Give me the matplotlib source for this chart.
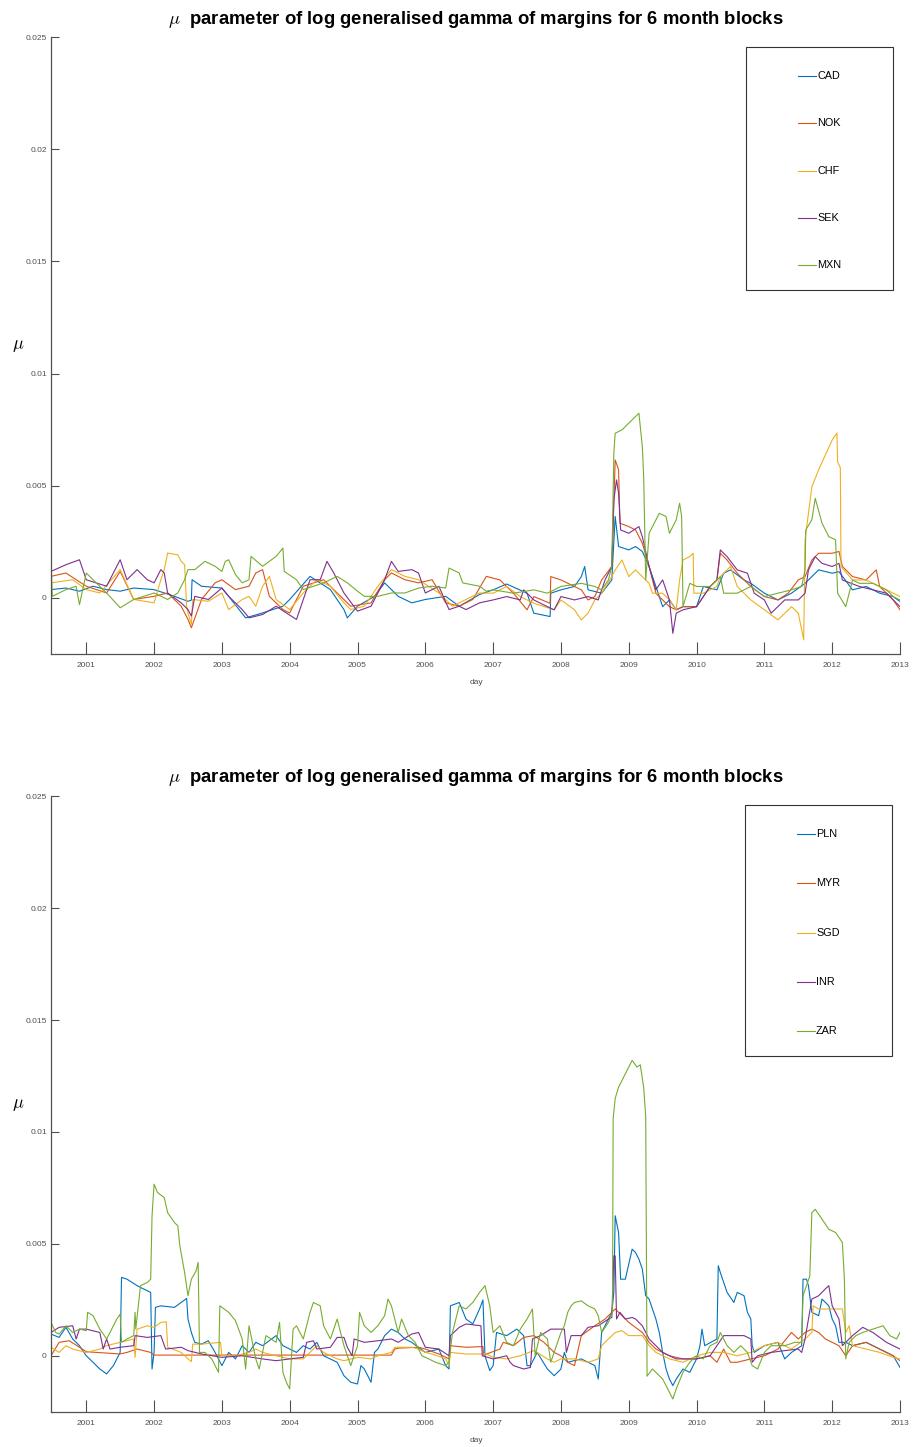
import numpy as np
import matplotlib
matplotlib.use("Agg")
import matplotlib.pyplot as plt
from matplotlib.patches import Rectangle

# values are (decimal year, mu in units of 1e-3)
CAD = [(2000.48, 0.37), (2000.7, 0.44), (2000.9, 0.30), (2001.1, 0.52), (2001.3, 0.37), (2001.5, 0.30),
       (2001.7, 0.44), (2002.0, 0.37), (2002.3, 0.07), (2002.5, -0.15), (2002.55, -0.1), (2002.56, 0.81),
       (2002.7, 0.52), (2003.0, 0.44), (2003.1, 0.07), (2003.35, -0.89), (2003.6, -0.67), (2003.9, -0.37),
       (2004.0, -0.07), (2004.3, 0.96), (2004.6, 0.37), (2004.8, -0.52), (2004.85, -0.89), (2005.0, -0.37),
       (2005.25, 0.07), (2005.4, 0.67), (2005.6, 0.07), (2005.8, -0.22), (2006.0, -0.07), (2006.3, 0.07),
       (2006.5, -0.37), (2006.8, 0.15), (2007.0, 0.36), (2007.2, 0.62), (2007.5, 0.21), (2007.6, -0.68),
       (2007.84, -0.83), (2007.85, 0.21), (2008.0, 0.36), (2008.2, 0.51), (2008.3, 0.95), (2008.35, 1.40),
       (2008.4, 0.36), (2008.6, 0.21), (2008.75, 0.80), (2008.8, 3.63), (2008.85, 2.29), (2009.0, 2.14),
       (2009.1, 2.29), (2009.2, 2.07), (2009.3, 1.40), (2009.4, 0.51), (2009.5, -0.39), (2009.6, -0.09),
       (2009.7, -0.53), (2009.8, -0.39), (2010.0, -0.39), (2010.1, 0.51), (2010.3, 0.36), (2010.4, 1.10),
       (2010.5, 1.25), (2010.7, 0.80), (2010.8, 0.65), (2011.0, 0.21), (2011.2, -0.09), (2011.4, 0.21),
       (2011.6, 0.65), (2011.7, 0.95), (2011.8, 1.25), (2012.0, 1.10), (2012.1, 1.17), (2012.3, 0.36),
       (2012.5, 0.51), (2012.7, 0.21), (2012.9, 0.06), (2013.0, -0.16)]

NOK = [(2000.48, 0.96), (2000.7, 1.11), (2001.0, 0.52), (2001.3, 0.22), (2001.5, 1.18), (2001.7, -0.07),
       (2002.0, 0.07), (2002.2, 0.22), (2002.4, -0.37), (2002.5, -0.96), (2002.55, -1.33), (2002.7, -0.07),
       (2002.9, 0.67), (2003.0, 0.81), (2003.2, 0.37), (2003.4, 0.52), (2003.5, 1.11), (2003.6, 1.26),
       (2003.7, 0.07), (2003.9, -0.52), (2004.0, -0.67), (2004.2, 0.52), (2004.5, 0.81), (2004.7, 0.22),
       (2004.9, -0.37), (2005.2, -0.22), (2005.4, 0.81), (2005.5, 1.11), (2005.7, 0.81), (2005.9, 0.67),
       (2006.1, 0.81), (2006.3, -0.22), (2006.5, -0.37), (2006.7, -0.07), (2006.9, 0.96), (2007.1, 0.80),
       (2007.3, 0.21), (2007.5, -0.53), (2007.6, 0.06), (2007.84, -0.24), (2007.85, 0.95), (2008.0, 0.80),
       (2008.2, 0.51), (2008.3, 0.36), (2008.4, -0.09), (2008.5, 0.06), (2008.6, 0.80), (2008.75, 1.40),
       (2008.8, 6.15), (2008.85, 5.71), (2008.87, 3.33), (2009.0, 3.18), (2009.1, 3.03), (2009.2, 2.44),
       (2009.3, 1.40), (2009.4, 0.21), (2009.5, -0.09), (2009.6, -0.39), (2009.7, -0.53), (2009.8, -0.39),
       (2010.0, -0.39), (2010.2, 0.51), (2010.3, 0.80), (2010.35, 1.99), (2010.45, 1.69), (2010.6, 1.10),
       (2010.8, 0.51), (2011.0, 0.06), (2011.2, -0.09), (2011.35, 0.21), (2011.5, 0.80), (2011.6, 0.95),
       (2011.7, 1.69), (2011.8, 1.99), (2012.0, 1.99), (2012.1, 2.07), (2012.15, 1.40), (2012.3, 0.95),
       (2012.5, 0.80), (2012.65, 1.25), (2012.7, 0.51), (2012.9, -0.09), (2013.0, -0.53)]

CHF = [(2000.48, 0.67), (2000.8, 0.81), (2001.0, 0.37), (2001.2, 0.22), (2001.5, 1.26), (2001.7, -0.07),
       (2002.0, -0.22), (2002.1, 0.81), (2002.15, 1.26), (2002.2, 2.0), (2002.35, 1.92), (2002.4, 1.63),
       (2002.45, 1.48), (2002.48, -0.37), (2002.5, -0.67), (2002.55, -1.18), (2002.57, -0.07), (2002.8, -0.15),
       (2003.0, 0.22), (2003.1, -0.52), (2003.3, -0.07), (2003.4, 0.07), (2003.5, -0.37), (2003.6, 0.52),
       (2003.7, 0.96), (2003.8, -0.07), (2004.0, -0.52), (2004.2, 0.22), (2004.4, 0.81), (2004.6, 0.52),
       (2004.8, -0.22), (2004.9, -0.52), (2005.1, -0.37), (2005.3, 0.52), (2005.5, 1.26), (2005.7, 0.96),
       (2005.9, 0.81), (2006.2, 0.22), (2006.4, -0.37), (2006.6, -0.07), (2006.8, 0.22), (2007.0, 0.21),
       (2007.2, 0.51), (2007.4, 0.06), (2007.6, -0.24), (2007.9, -0.53), (2008.0, -0.09), (2008.2, -0.53),
       (2008.3, -0.98), (2008.4, -0.68), (2008.5, -0.09), (2008.6, 0.21), (2008.75, 0.95), (2008.8, 1.25),
       (2008.9, 1.69), (2009.0, 0.95), (2009.1, 1.25), (2009.2, 0.95), (2009.3, 0.65), (2009.35, 0.21),
       (2009.5, 0.21), (2009.6, -0.09), (2009.7, -0.53), (2009.75, 0.80), (2009.8, 1.69), (2009.9, 1.84),
       (2009.95, 1.99), (2009.96, 0.21), (2010.1, 0.21), (2010.3, 0.51), (2010.35, 0.95), (2010.5, 1.40),
       (2010.6, 0.51), (2010.8, -0.09), (2011.0, -0.53), (2011.2, -0.98), (2011.4, -0.39), (2011.5, -0.68),
       (2011.58, -1.87), (2011.6, 2.6), (2011.7, 4.95), (2011.8, 5.71), (2012.0, 7.04), (2012.07, 7.35),
       (2012.08, 6.06), (2012.12, 5.8), (2012.13, 1.40), (2012.3, 0.80), (2012.5, 0.80), (2012.7, 0.51),
       (2012.9, 0.21), (2013.0, 0.06)]

SEK = [(2000.48, 1.18), (2000.7, 1.48), (2000.9, 1.70), (2001.0, 0.81), (2001.3, 0.52), (2001.45, 1.41),
       (2001.5, 1.70), (2001.6, 0.81), (2001.75, 1.26), (2001.9, 0.81), (2002.0, 0.67), (2002.1, 1.26),
       (2002.15, 1.11), (2002.2, 0.22), (2002.4, -0.22), (2002.5, -0.52), (2002.55, -0.81), (2002.6, 0.07),
       (2002.8, -0.07), (2003.0, 0.44), (2003.1, 0.07), (2003.3, -0.52), (2003.4, -0.89), (2003.6, -0.74),
       (2003.8, -0.37), (2003.95, -0.67), (2004.1, -0.96), (2004.3, 0.81), (2004.45, 0.81), (2004.55, 1.63),
       (2004.65, 1.11), (2004.8, 0.22), (2005.0, -0.59), (2005.2, -0.37), (2005.4, 0.81), (2005.5, 1.63),
       (2005.6, 1.18), (2005.8, 1.26), (2005.9, 1.11), (2006.0, 0.22), (2006.2, 0.52), (2006.35, -0.52),
       (2006.5, -0.37), (2006.6, -0.52), (2006.8, -0.22), (2007.0, -0.09), (2007.2, 0.06), (2007.4, -0.09),
       (2007.45, 0.36), (2007.6, -0.09), (2007.8, -0.39), (2007.9, -0.53), (2008.0, 0.06), (2008.2, -0.09),
       (2008.4, 0.06), (2008.55, -0.09), (2008.65, 0.80), (2008.75, 1.40), (2008.78, 4.37), (2008.82, 5.26),
       (2008.85, 4.67), (2008.88, 3.03), (2009.0, 2.88), (2009.15, 3.18), (2009.2, 2.73), (2009.3, 1.40),
       (2009.4, 0.36), (2009.5, 0.80), (2009.6, -0.09), (2009.65, -1.58), (2009.7, -0.68), (2009.8, -0.53),
       (2010.0, -0.39), (2010.2, 0.51), (2010.3, 0.80), (2010.35, 2.14), (2010.45, 1.84), (2010.6, 1.25),
       (2010.75, 1.10), (2010.85, 0.21), (2011.0, -0.09), (2011.1, -0.68), (2011.3, -0.09), (2011.5, -0.09),
       (2011.6, 0.21), (2011.65, 1.25), (2011.75, 1.84), (2011.85, 1.54), (2012.0, 1.40), (2012.1, 1.54),
       (2012.15, 0.80), (2012.4, 0.51), (2012.6, 0.36), (2012.8, 0.21), (2013.0, -0.39)]

MXN = [(2000.48, 1.63), (2000.5, 0.07), (2000.7, 0.37), (2000.85, 0.52), (2000.9, -0.30), (2001.0, 1.11),
       (2001.1, 0.81), (2001.3, 0.22), (2001.5, -0.44), (2001.7, -0.07), (2002.0, 0.22), (2002.2, -0.07),
       (2002.35, 0.22), (2002.45, 0.81), (2002.5, 1.26), (2002.6, 1.26), (2002.75, 1.63), (2002.9, 1.41),
       (2003.0, 1.18), (2003.05, 1.63), (2003.1, 1.70), (2003.2, 1.04), (2003.3, 0.67), (2003.4, 0.81),
       (2003.43, 1.85), (2003.6, 1.41), (2003.8, 1.85), (2003.9, 2.22), (2003.92, 1.18), (2004.1, 0.81),
       (2004.2, 0.37), (2004.5, 0.67), (2004.7, 0.96), (2004.85, 0.67), (2005.0, 0.30), (2005.1, 0.07),
       (2005.3, 0.07), (2005.5, 0.22), (2005.7, 0.22), (2005.9, 0.44), (2006.1, 0.52), (2006.3, 0.44),
       (2006.35, 1.33), (2006.5, 1.11), (2006.55, 0.67), (2006.8, 0.52), (2006.9, 0.30), (2007.0, 0.36),
       (2007.3, 0.21), (2007.6, 0.36), (2007.8, 0.21), (2008.0, 0.51), (2008.3, 0.65), (2008.5, 0.51),
       (2008.6, 0.36), (2008.7, 0.80), (2008.75, 1.40), (2008.78, 6.45), (2008.8, 7.34), (2008.9, 7.49),
       (2009.0, 7.79), (2009.15, 8.23), (2009.2, 6.75), (2009.22, 5.41), (2009.25, 0.80), (2009.3, 2.88),
       (2009.35, 3.18), (2009.45, 3.77), (2009.55, 3.63), (2009.6, 2.88), (2009.7, 3.48), (2009.75, 4.22),
       (2009.78, 3.63), (2009.8, -0.39), (2009.9, 0.65), (2010.0, 0.51), (2010.2, 0.51), (2010.35, 0.95),
       (2010.4, 0.21), (2010.6, 0.21), (2010.8, 0.51), (2011.0, 0.06), (2011.2, 0.21), (2011.4, 0.36),
       (2011.55, 0.51), (2011.6, 1.25), (2011.61, 3.03), (2011.7, 3.48), (2011.75, 4.44), (2011.85, 3.33),
       (2011.95, 2.73), (2012.05, 2.59), (2012.08, 0.21), (2012.2, -0.39), (2012.3, 0.80), (2012.4, 0.65),
       (2012.6, 0.65), (2012.8, 0.36), (2012.9, 0.06), (2013.0, -0.09)]

PLN = [(2000.48, 0.98), (2000.6, 0.83), (2000.7, 1.28), (2000.8, 0.76), (2000.9, 0.46), (2001.0, 0.01),
       (2001.1, -0.28), (2001.2, -0.58), (2001.3, -0.80), (2001.4, -0.43), (2001.5, 0.16), (2001.52, 3.51),
       (2001.6, 3.43), (2001.75, 3.14), (2001.8, 3.06), (2001.95, 2.84), (2001.97, -0.58), (2002.0, 0.16),
       (2002.02, 2.17), (2002.1, 2.24), (2002.3, 2.17), (2002.4, 2.39), (2002.48, 2.57), (2002.5, 1.65),
       (2002.55, 1.05), (2002.6, 0.61), (2002.7, 0.53), (2002.8, 0.68), (2002.9, 0.16), (2003.0, -0.43),
       (2003.1, 0.16), (2003.2, -0.13), (2003.3, 0.46), (2003.4, 0.16), (2003.5, 0.61), (2003.6, 0.46),
       (2003.8, 0.91), (2003.9, 0.46), (2004.0, 0.31), (2004.1, 0.16), (2004.2, 0.46), (2004.3, 0.31),
       (2004.4, 0.61), (2004.5, 0.01), (2004.7, -0.28), (2004.8, -0.88), (2004.9, -1.17), (2005.0, -1.25),
       (2005.05, -0.43), (2005.1, -0.58), (2005.2, -1.17), (2005.25, 0.16), (2005.3, 0.31), (2005.4, 0.91),
       (2005.5, 1.20), (2005.6, 1.05), (2005.7, 0.76), (2005.8, 0.61), (2006.0, 0.16), (2006.2, 0.31),
       (2006.3, -0.43), (2006.35, -0.58), (2006.37, 2.24), (2006.5, 2.39), (2006.6, 1.65), (2006.7, 1.43),
       (2006.8, 2.10), (2006.85, 2.5), (2006.88, 0.0), (2006.95, -0.65), (2007.0, -0.43), (2007.05, 1.05),
       (2007.2, 0.91), (2007.35, 1.20), (2007.45, 0.91), (2007.5, -0.43), (2007.55, -0.43), (2007.65, 0.16),
       (2007.8, -0.58), (2007.9, -0.88), (2008.0, -0.58), (2008.05, 0.16), (2008.1, -0.28), (2008.3, -0.13),
       (2008.5, -0.43), (2008.55, -1.03), (2008.6, 1.05), (2008.7, 1.65), (2008.75, 1.95), (2008.78, 2.84),
       (2008.8, 6.26), (2008.85, 5.51), (2008.88, 3.43), (2008.95, 3.43), (2009.05, 4.77), (2009.1, 4.62),
       (2009.15, 4.32), (2009.2, 3.88), (2009.25, 2.69), (2009.3, 2.54), (2009.4, 1.65), (2009.45, 1.05),
       (2009.5, 0.16), (2009.55, -0.58), (2009.6, -1.03), (2009.65, -1.32), (2009.7, -1.03), (2009.8, -0.58),
       (2009.9, -0.73), (2010.0, -0.13), (2010.05, 0.46), (2010.08, 1.20), (2010.12, 0.46), (2010.3, 0.76),
       (2010.32, 4.03), (2010.35, 3.73), (2010.45, 2.84), (2010.55, 2.39), (2010.6, 2.84), (2010.7, 2.69),
       (2010.75, 1.95), (2010.8, 1.65), (2010.82, 0.46), (2010.85, 0.16), (2011.0, 0.46), (2011.2, 0.61),
       (2011.3, -0.13), (2011.4, 0.16), (2011.55, 0.46), (2011.57, 3.43), (2011.62, 3.43), (2011.65, 3.14),
       (2011.7, 1.95), (2011.8, 1.80), (2011.85, 2.54), (2011.95, 2.24), (2012.0, 1.65), (2012.05, 1.35),
       (2012.1, 0.61), (2012.2, 0.61), (2012.3, 0.46), (2012.5, 0.61), (2012.7, 0.31), (2012.9, 0.01),
       (2013.0, -0.51)]

MYR = [(2000.48, 0.01), (2000.6, 0.61), (2000.75, 0.68), (2000.9, 0.39), (2001.0, 0.19), (2001.5, 0.09),
       (2001.6, 0.16), (2001.75, 0.31), (2001.95, 0.16), (2002.0, 0.04), (2005.5, 0.04), (2005.55, 0.31),
       (2005.6, 0.35), (2005.9, 0.39), (2006.0, 0.31), (2006.2, 0.09), (2006.35, -0.13), (2006.37, 0.46),
       (2006.6, 0.39), (2006.85, 0.42), (2006.86, 0.04), (2007.1, 0.31), (2007.15, 0.61), (2007.3, 0.46),
       (2007.45, 0.83), (2007.6, 0.91), (2007.75, 0.61), (2007.9, 0.16), (2008.0, 0.01), (2008.1, -0.28),
       (2008.2, -0.43), (2008.3, 0.91), (2008.5, 1.35), (2008.65, 1.65), (2008.8, 2.10), (2008.85, 1.95),
       (2009.0, 1.50), (2009.2, 1.05), (2009.3, 0.61), (2009.4, 0.31), (2009.6, 0.01), (2009.8, -0.13),
       (2010.0, -0.13), (2010.2, 0.01), (2010.3, -0.28), (2010.4, 0.31), (2010.5, -0.28), (2010.6, -0.28),
       (2010.8, -0.13), (2011.0, 0.01), (2011.2, 0.31), (2011.4, 1.05), (2011.5, 0.76), (2011.6, 1.05),
       (2011.7, 1.20), (2011.8, 1.05), (2011.9, 0.76), (2012.0, 0.61), (2012.1, 0.46), (2012.2, 0.01),
       (2012.3, 0.46), (2012.5, 0.61), (2012.7, 0.31), (2012.9, 0.01), (2013.0, -0.21)]

SGD = [(2000.48, 0.39), (2000.6, 0.16), (2000.7, 0.46), (2000.8, 0.31), (2001.0, 0.16), (2001.2, 0.31),
       (2001.3, 0.46), (2001.5, 0.61), (2001.7, 0.76), (2001.72, -0.06), (2001.75, 1.20), (2001.9, 1.35),
       (2002.0, 1.28), (2002.1, 1.50), (2002.18, 1.53), (2002.2, 0.39), (2002.4, 0.16), (2002.5, -0.13),
       (2002.55, -0.25), (2002.57, 0.53), (2002.7, 0.53), (2002.98, 0.61), (2003.0, 0.01), (2003.2, 0.01),
       (2003.4, 0.16), (2003.5, 0.31), (2003.6, 0.16), (2003.8, 0.01), (2004.0, -0.13), (2004.2, -0.13),
       (2004.4, 0.46), (2004.5, 0.16), (2004.7, -0.13), (2004.8, -0.21), (2005.0, -0.06), (2005.2, -0.13),
       (2005.3, 0.01), (2005.5, 0.16), (2005.55, 0.39), (2005.8, 0.39), (2005.9, 0.31), (2006.0, 0.16),
       (2006.1, 0.09), (2006.3, -0.13), (2006.35, -0.43), (2006.37, 0.16), (2006.6, 0.09), (2006.9, 0.09),
       (2007.0, -0.06), (2007.2, -0.13), (2007.4, 0.01), (2007.6, 0.24), (2007.8, -0.13), (2007.9, -0.28),
       (2008.0, -0.13), (2008.2, -0.13), (2008.4, -0.28), (2008.55, -0.13), (2008.6, 0.46), (2008.7, 0.76),
       (2008.8, 1.05), (2008.9, 1.13), (2009.0, 0.91), (2009.2, 0.91), (2009.3, 0.46), (2009.4, 0.16),
       (2009.6, -0.13), (2009.8, -0.28), (2010.0, 0.01), (2010.2, 0.16), (2010.4, 0.16), (2010.6, 0.01),
       (2010.8, 0.16), (2011.0, 0.46), (2011.2, 0.61), (2011.4, 0.31), (2011.6, 0.76), (2011.7, 1.05),
       (2011.72, 2.24), (2011.8, 2.10), (2012.0, 2.10), (2012.15, 2.10), (2012.2, 1.05), (2012.25, 1.35),
       (2012.3, 0.46), (2012.5, 0.31), (2012.7, 0.16), (2012.9, -0.06), (2013.0, -0.13)]

INR = [(2000.48, 1.05), (2000.6, 1.28), (2000.8, 1.35), (2000.85, 0.76), (2000.9, 1.20), (2001.0, 1.20),
       (2001.2, 1.05), (2001.25, 0.31), (2001.3, 0.76), (2001.35, 0.31), (2001.5, 0.39), (2001.7, 0.46),
       (2001.72, 0.91), (2001.9, 0.83), (2002.1, 0.91), (2002.17, 0.31), (2002.4, 0.39), (2002.5, 0.24),
       (2002.7, 0.09), (2003.0, -0.06), (2003.3, 0.01), (2003.6, -0.13), (2003.8, -0.21), (2004.0, -0.13),
       (2004.2, -0.06), (2004.25, 0.61), (2004.35, 0.68), (2004.4, 0.31), (2004.6, 0.39), (2004.7, 0.83),
       (2004.8, 0.83), (2004.85, 0.39), (2004.92, 0.01), (2004.95, 0.76), (2005.1, 0.61), (2005.3, 0.68),
       (2005.5, 0.76), (2005.6, 0.61), (2005.8, 0.98), (2005.9, 1.05), (2006.0, 0.39), (2006.2, 0.31),
       (2006.35, 0.01), (2006.37, 0.91), (2006.5, 1.28), (2006.6, 1.43), (2006.82, 1.35), (2006.84, 0.01),
       (2007.0, -0.13), (2007.2, 0.01), (2007.25, -0.28), (2007.3, -0.43), (2007.45, -0.58), (2007.55, -0.51),
       (2007.58, 0.76), (2007.7, 0.91), (2007.85, 1.20), (2008.05, 1.20), (2008.08, 0.16), (2008.15, 0.91),
       (2008.3, 0.91), (2008.4, 1.28), (2008.55, 1.35), (2008.7, 1.65), (2008.75, 1.72), (2008.78, 4.47),
       (2008.8, 4.47), (2008.82, 1.65), (2008.87, 1.95), (2008.95, 1.65), (2009.05, 1.72), (2009.1, 1.65),
       (2009.2, 1.35), (2009.3, 0.76), (2009.4, 0.46), (2009.5, 0.16), (2009.6, 0.01), (2009.7, -0.13),
       (2010.0, -0.13), (2010.2, 0.01), (2010.3, 0.46), (2010.4, 0.91), (2010.6, 0.91), (2010.7, 0.91),
       (2010.8, 0.76), (2010.82, -0.28), (2010.9, 0.01), (2011.1, 0.16), (2011.3, 0.24), (2011.5, 0.31),
       (2011.55, 0.16), (2011.6, 0.76), (2011.7, 2.54), (2011.8, 2.69), (2011.9, 3.0), (2011.95, 3.14),
       (2012.0, 2.24), (2012.1, 1.65), (2012.15, 0.46), (2012.3, 0.91), (2012.45, 1.28), (2012.6, 1.05),
       (2012.8, 0.61), (2013.0, 0.31)]

ZAR = [(2000.48, 1.50), (2000.55, 1.05), (2000.6, 0.98), (2000.7, 1.35), (2000.8, 1.05), (2000.9, 1.20),
       (2001.0, 1.13), (2001.02, 1.95), (2001.1, 1.80), (2001.2, 1.20), (2001.3, 0.76), (2001.35, 1.05),
       (2001.45, 1.65), (2001.5, 1.87), (2001.52, 0.61), (2001.6, 0.76), (2001.7, 0.91), (2001.72, 1.95),
       (2001.73, 1.20), (2001.8, 3.14), (2001.9, 3.28), (2001.95, 3.43), (2001.97, 6.26), (2002.0, 7.67),
       (2002.05, 7.30), (2002.15, 7.07), (2002.2, 6.40), (2002.3, 5.96), (2002.35, 5.81), (2002.38, 4.92),
       (2002.45, 3.73), (2002.5, 2.69), (2002.55, 3.43), (2002.62, 3.80), (2002.65, 4.18), (2002.67, 0.16),
       (2002.75, 0.16), (2002.85, -0.13), (2002.95, -0.73), (2002.97, 2.24), (2003.1, 1.95), (2003.2, 1.58),
       (2003.3, 0.76), (2003.35, -0.58), (2003.4, 1.35), (2003.5, -0.13), (2003.55, -0.58), (2003.65, 0.91),
       (2003.8, 0.61), (2003.85, 1.50), (2003.9, -0.73), (2003.95, -1.17), (2004.0, -1.47), (2004.05, 1.20),
       (2004.1, 1.35), (2004.2, 0.76), (2004.3, 1.95), (2004.35, 2.39), (2004.45, 2.24), (2004.5, 1.35),
       (2004.6, 0.76), (2004.7, 1.65), (2004.8, 0.46), (2004.9, -0.43), (2005.0, 0.46), (2005.03, 1.95),
       (2005.1, 1.35), (2005.2, 1.05), (2005.3, 1.35), (2005.4, 1.80), (2005.45, 2.54), (2005.5, 2.24),
       (2005.6, 1.05), (2005.65, 1.65), (2005.75, 0.91), (2005.85, 0.61), (2005.95, 0.01), (2006.05, -0.13),
       (2006.15, -0.28), (2006.3, -0.43), (2006.35, -0.28), (2006.4, 1.05), (2006.5, 2.24), (2006.6, 2.10),
       (2006.7, 2.39), (2006.8, 2.84), (2006.88, 3.14), (2006.95, 2.24), (2007.0, 1.05), (2007.1, 1.35),
       (2007.2, 0.61), (2007.3, 0.46), (2007.4, 1.20), (2007.5, 1.65), (2007.58, 2.10), (2007.62, 0.01),
       (2007.7, 1.05), (2007.8, 0.76), (2007.85, -0.28), (2008.0, 1.05), (2008.05, 1.35), (2008.1, 1.95),
       (2008.15, 2.24), (2008.2, 2.39), (2008.3, 2.46), (2008.4, 2.24), (2008.5, 2.10), (2008.55, 1.80),
       (2008.6, 1.05), (2008.7, 1.50), (2008.76, 1.95), (2008.77, 10.6), (2008.8, 11.5), (2008.85, 12.0),
       (2008.95, 12.6), (2009.05, 13.2), (2009.12, 12.9), (2009.17, 13.0), (2009.22, 12.0), (2009.25, 10.7),
       (2009.27, -0.9), (2009.35, -0.58), (2009.4, -0.73), (2009.5, -1.03), (2009.55, -1.32), (2009.65, -1.92),
       (2009.7, -1.47), (2009.8, -0.73), (2009.9, -0.28), (2010.0, 0.01), (2010.1, -0.13), (2010.2, 0.46),
       (2010.3, 0.61), (2010.35, 1.05), (2010.45, 0.46), (2010.55, 0.16), (2010.65, 0.46), (2010.75, 0.16),
       (2010.82, -0.43), (2010.9, -0.58), (2011.0, 0.16), (2011.1, 0.46), (2011.3, 0.46), (2011.45, 0.61),
       (2011.55, 0.61), (2011.57, 2.69), (2011.62, 3.14), (2011.67, 3.58), (2011.7, 6.40), (2011.75, 6.55),
       (2011.85, 6.11), (2011.95, 5.66), (2012.05, 5.51), (2012.15, 5.07), (2012.18, 3.43), (2012.2, -0.13),
       (2012.25, 0.61), (2012.35, 0.91), (2012.45, 1.05), (2012.6, 1.20), (2012.75, 1.35), (2012.85, 0.91),
       (2012.95, 0.76), (2013.0, 1.05)]

panels = [
    (["CAD", "NOK", "CHF", "SEK", "MXN"], [CAD, NOK, CHF, SEK, MXN]),
    (["PLN", "MYR", "SGD", "INR", "ZAR"], [PLN, MYR, SGD, INR, ZAR]),
]
years = list(range(2001, 2014))
yticks = [0, 0.005, 0.01, 0.015, 0.02, 0.025]
ytick_labels = ["0", "0.005", "0.01", "0.015", "0.02", "0.025"]
title = r"$\mu$  parameter of log generalised gamma of margins for 6 month blocks"

colors = ["#0072BD", "#D95319", "#EDB120", "#7E2F8E", "#77AC30"]
FONT = ["Liberation Sans", "DejaVu Sans"]
plt.rcParams["mathtext.fontset"] = "cm"
axc = "#505050"

W, H = 913, 1447
fig = plt.figure(figsize=(W / 100, H / 100), dpi=100)

# pixel boxes: (left, top, right, bottom) of axes, legend box, title y, day y
layout = [
    dict(ax=(51, 37, 900, 654), leg=(746, 47, 893, 290), ty=19, dy=682, ly=345),
    dict(ax=(51, 796, 900, 1412), leg=(745, 805, 892, 1056), ty=778, dy=1441, ly=1104),
]

for (names, series), lay in zip(panels, layout):
    l, t, r, b = lay["ax"]
    ax = fig.add_axes([l / W, 1 - b / H, (r - l) / W, (b - t) / H])
    for name, s, c in zip(names, series, colors):
        arr = np.array(s)
        ax.plot(arr[:, 0], arr[:, 1] * 1e-3, color=c, lw=0.8)
    ax.set_xlim(2000.48, 2013.0)
    ax.set_ylim(-0.0025, 0.025)
    ax.set_xticks(years)
    ax.set_xticklabels([str(y) for y in years], family=FONT, fontsize=6, color=axc)
    ax.set_yticks(yticks)
    ax.set_yticklabels(ytick_labels, family=FONT, fontsize=6, color=axc)
    ax.tick_params(axis="x", direction="in", length=9, width=0.8, color=axc, pad=6)
    ax.tick_params(axis="y", direction="in", length=6, width=0.8, color=axc, pad=3)
    for sp in ["top", "right"]:
        ax.spines[sp].set_visible(False)
    for sp in ["left", "bottom"]:
        ax.spines[sp].set_color(axc)
        ax.spines[sp].set_linewidth(0.9)

    # legend box drawn like the matlab one
    lx0, ly0, lx1, ly1 = lay["leg"]
    fx = lambda px: (px - l) / (r - l)
    fy = lambda py: (b - py) / (b - t)
    ax.add_patch(Rectangle((fx(lx0), fy(ly1)), fx(lx1) - fx(lx0), fy(ly0) - fy(ly1),
                           transform=ax.transAxes, fill=False, edgecolor="#333333", lw=0.8, clip_on=False))
    step = (ly1 - ly0 - 54) / 4
    for i, (name, c) in enumerate(zip(names, colors)):
        yy = fy(ly0 + 29 + i * step)
        ax.plot([fx(lx0 + 52), fx(lx0 + 70)], [yy, yy], color=c, lw=0.8,
                transform=ax.transAxes, clip_on=False)
        ax.text(fx(lx0 + 71), yy, name, transform=ax.transAxes, va="center", ha="left",
                family=FONT, fontsize=7.8)

    fig.text(476 / W, 1 - lay["ty"] / H, title, ha="center", va="center",
             family=FONT, fontsize=13.3, fontweight="bold")
    fig.text(476 / W, 1 - lay["dy"] / H, "day", ha="center", va="center",
             family=FONT, fontsize=6, color=axc)
    fig.text(18 / W, 1 - lay["ly"] / H, r"$\mu$", ha="center", va="center", fontsize=13)

fig.savefig("out.png", dpi=100)
